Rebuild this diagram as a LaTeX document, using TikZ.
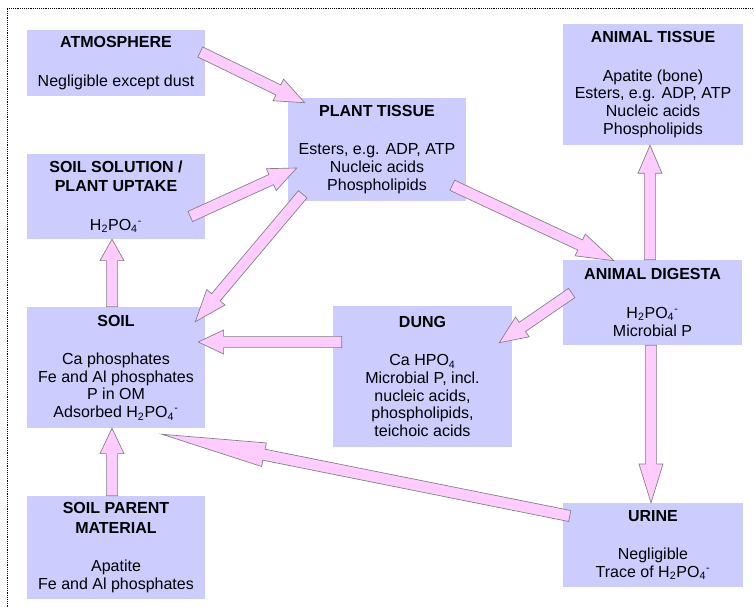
\documentclass[tikz,border=0pt]{standalone}
\usepackage{fontspec}
\setmainfont{Liberation Sans}
\usetikzlibrary{calc}

\definecolor{poolblue}{RGB}{204,204,255}
\definecolor{flowpink}{RGB}{255,204,255}

% dihydrogen phosphate ion
\newcommand{\hpo}{H\textsubscript{2}PO\textsubscript{4}\textsuperscript{-}}

% block arrow from #2 to #3, #1 = head length
\newcommand{\flowarrow}[3][21pt]{%
  \coordinate (fa-s) at (#2);
  \coordinate (fa-e) at (#3);
  \coordinate (fa-n) at ($(fa-e)!#1!(fa-s)$);
  \filldraw[flow] ($(fa-s)!4.2pt!90:(fa-e)$) -- ($(fa-n)!4.2pt!90:(fa-e)$)
    -- ($(fa-n)!9pt!90:(fa-e)$) -- (fa-e) -- ($(fa-n)!9pt!-90:(fa-e)$)
    -- ($(fa-n)!4.2pt!-90:(fa-e)$) -- ($(fa-s)!4.2pt!-90:(fa-e)$) -- cycle;
}

\tikzset{
  pool/.style={fill=poolblue, align=center, inner sep=0pt,
    font=\fontsize{12}{13.3}\selectfont},
  flow/.style={fill=flowpink, draw=gray, line width=0.5pt}
}

\begin{document}
\begin{tikzpicture}[x=0.75pt,y=-0.75pt]
  \useasboundingbox[fill=white] (0,0) rectangle (754,607);
  \draw[densely dotted, thin] (7,607) -- (7,8) -- (754,8);

  % pools of phosphorus
  \node[pool, minimum width=133.5pt, minimum height=49.5pt] (atm) at (116,63)
    {\textbf{ATMOSPHERE}\\[15.5pt]Negligible except dust};
  \node[pool, minimum width=133.5pt, minimum height=63.75pt] (sol) at (116,196.5)
    {\textbf{SOIL SOLUTION /}\\[1.5pt]\textbf{PLANT UPTAKE}\\[15.5pt]\hpo};
  \node[pool, minimum width=133.5pt, minimum height=77.25pt] (plant) at (377,149.5)
    {\textbf{PLANT TISSUE}\\[15.5pt]Esters, e.g. ADP, ATP\\Nucleic acids\\Phospholipids};
  \node[pool, minimum width=135pt, minimum height=90.75pt] (antis) at (653,84.5)
    {\textbf{ANIMAL TISSUE}\\[15.5pt]Apatite (bone)\\Esters, e.g. ADP, ATP\\Nucleic acids\\Phospholipids};
  \node[pool, minimum width=134.25pt, minimum height=63.75pt] (dig) at (652.5,302.5)
    {\textbf{ANIMAL DIGESTA}\\[15.5pt]\hpo\\Microbial P};
  \node[pool, minimum width=133.5pt, minimum height=90.75pt] (soil) at (116,367.5)
    {\textbf{SOIL}\\[15.5pt]Ca phosphates\\Fe and Al phosphates\\P in OM\\Adsorbed \hpo};
  \node[pool, minimum width=134.25pt, minimum height=105.75pt] (dung) at (422.5,376.5)
    {\textbf{DUNG}\\[15.5pt]Ca HPO\textsubscript{4}\\Microbial P, incl.\\nucleic acids,\\phospholipids,\\teichoic acids};
  \node[pool, minimum width=135pt, minimum height=63pt] (urine) at (653,545)
    {\textbf{URINE}\\[15.5pt]Negligible\\Trace of \hpo};
  \node[pool, minimum width=133.5pt, minimum height=77.25pt] (parent) at (116,547.5)
    {\textbf{SOIL PARENT}\\[1.5pt]\textbf{MATERIAL}\\[15.5pt]Apatite\\Fe and Al phosphates};

  % flows
  \flowarrow[22pt]{$(atm.east)+(-5,-11)$}{$(plant.north west)+(17,5)$}
  \flowarrow{$(sol.east)+(-15,20)$}{$(plant.west)+(9,18.5)$}
  \flowarrow[24pt]{$(plant.south west)+(15,-7)$}{$(soil.north east)+(-10,15)$}
  \flowarrow[16pt]{$(soil.north)+(-4,0)$}{$(sol.south)+(-4,0)$}
  \flowarrow[19pt]{$(parent.north)+(-4,0)$}{$(soil.south)+(-4,0)$}
  \flowarrow[19pt]{$(dung.west)+(9,-34.5)$}{$(soil.east)+(-7,-25.5)$}
  \flowarrow[28pt]{$(plant.south east)+(-14,-16)$}{$(dig.north)+(-38.5,1)$}
  \flowarrow{$(dig.north)+(-2.5,0)$}{$(antis.south)+(-3,0)$}
  \flowarrow{$(dig.west)+(9,-9.5)$}{$(dung.north east)+(-13,37)$}
  \flowarrow[29pt]{$(dig.south)+(-1.5,0)$}{$(urine.north)+(-2,0)$}
  \flowarrow[78pt]{$(urine.west)+(7,-29)$}{$(soil.south)+(46,6)$}
\end{tikzpicture}
\end{document}
